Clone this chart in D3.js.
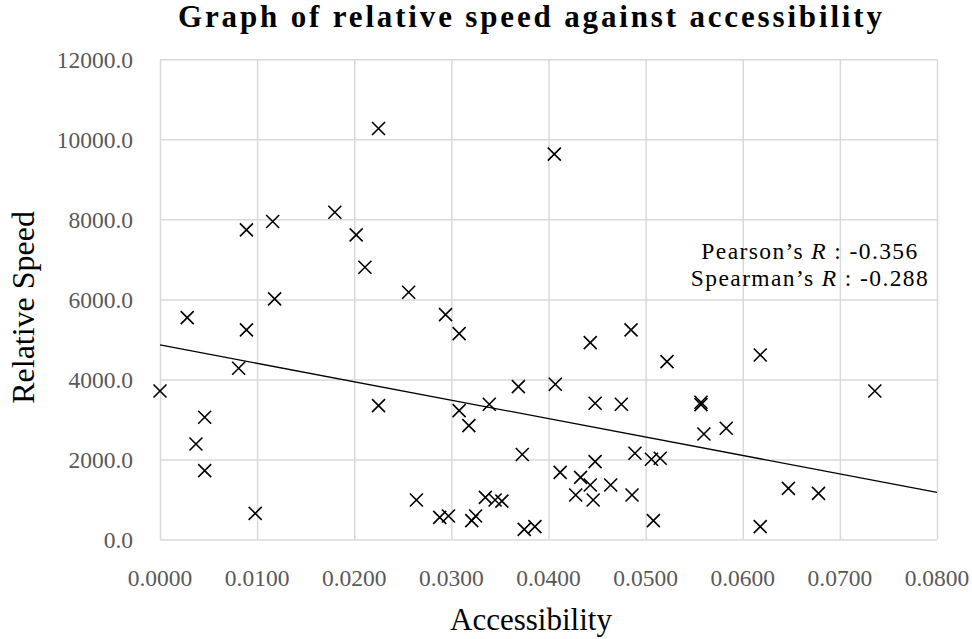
<!DOCTYPE html>
<html>
<head>
<meta charset="utf-8">
<script src="https://cdn.jsdelivr.net/npm/d3@7"></script>
<style>
  html, body { margin: 0; padding: 0; background: #ffffff; }
  svg { display: block; }
</style>
</head>
<body>
<svg id="chart" width="972" height="639"></svg>
<script>
// ---- Data ----
const accessibility = [
  0.0000, 0.0028, 0.0037, 0.0046, 0.0046, 0.0081, 0.0089, 0.0089, 0.0098, 0.0116,
  0.0118, 0.0180, 0.0202, 0.0211, 0.0225, 0.0225, 0.0256, 0.0264, 0.0288, 0.0294,
  0.0297, 0.0308, 0.0308, 0.0318, 0.0321, 0.0325, 0.0335, 0.0339, 0.0345, 0.0352,
  0.0369, 0.0373, 0.0375, 0.0386, 0.0406, 0.0407, 0.0412, 0.0428, 0.0433, 0.0443,
  0.0443, 0.0446, 0.0448, 0.0448, 0.0464, 0.0475, 0.0485, 0.0486, 0.0489, 0.0506,
  0.0508, 0.0515, 0.0522, 0.0557, 0.0557, 0.0560, 0.0583, 0.0618, 0.0618, 0.0647,
  0.0678, 0.0736
];
const relativeSpeed = [
  3712, 5546, 2387, 3054, 1721, 4279, 7738, 5238, 654, 7946,
  6012, 8179, 7612, 6804, 10270, 3346, 6179, 988, 554, 5621,
  587, 5146, 3221, 2846, 471, 587, 1054, 3379, 988, 960,
  3821, 2125, 254, 321, 9629, 3879, 1679, 1112, 1554, 4921,
  1362, 988, 3404, 1946, 1362, 3379, 5238, 1112, 2154, 2004,
  471, 2029, 4446, 3370, 3430, 2637, 2779, 4612, 321, 1279,
  1154, 3712
];
const trendX = [0.0000, 0.0800];
const trendY = [4862, 1180];
const xTicks = [0, 0.01, 0.02, 0.03, 0.04, 0.05, 0.06, 0.07, 0.08];
const yTicks = [0, 2000, 4000, 6000, 8000, 10000, 12000];
const titleText = "Graph of relative speed against accessibility";
const xTitle = "Accessibility";
const yTitle = "Relative Speed";
const stats = [
  { name: "Pearson\u2019s ", sym: "R", val: " : -0.356" },
  { name: "Spearman\u2019s ", sym: "R", val: " : -0.288" }
];

// ---- Layout ----
const svg = d3.select("#chart");
const pLeft = 160, pRight = 937, pTop = 59.3, pBottom = 539.5;
const x = d3.scaleLinear().domain([0, 0.08]).range([pLeft, pRight]);
const y = d3.scaleLinear().domain([0, 12000]).range([pBottom, pTop]);
const serif = "'Liberation Serif', 'Times New Roman', serif";
const grid = "#d9d9d9";
const tickColor = "#595959";

// gridlines
const gx = svg.append("g")
  .attr("transform", `translate(0,${pBottom})`)
  .call(d3.axisBottom(x).tickValues(xTicks).tickSize(-(pBottom - pTop)).tickFormat(""));
const gy = svg.append("g")
  .attr("transform", `translate(${pLeft},0)`)
  .call(d3.axisLeft(y).tickValues(yTicks).tickSize(-(pRight - pLeft)).tickFormat(""));
[gx, gy].forEach(g => {
  g.select(".domain").remove();
  g.selectAll(".tick line").attr("stroke", grid).attr("stroke-width", 1.5);
});

// tick labels
svg.append("g").selectAll("text").data(xTicks).join("text")
  .attr("x", d => x(d)).attr("y", 586)
  .attr("text-anchor", "middle")
  .attr("font-family", serif).attr("font-size", 23.5).attr("fill", tickColor)
  .text(d => d3.format(".4f")(d));
svg.append("g").selectAll("text").data(yTicks).join("text")
  .attr("x", 133).attr("y", d => y(d) + 8.2)
  .attr("text-anchor", "end")
  .attr("font-family", serif).attr("font-size", 23.5).attr("fill", tickColor)
  .text(d => d3.format(".1f")(d));

// trend line
const pts = trendX.map((v, i) => [v, trendY[i]]);
svg.append("path")
  .datum(pts)
  .attr("d", d3.line().x(d => x(d[0])).y(d => y(d[1])))
  .attr("fill", "none").attr("stroke", "#000").attr("stroke-width", 1.3);

// markers
const r = 6.5;
const data = accessibility.map((v, i) => ({ a: v, s: relativeSpeed[i] }));
svg.append("g").selectAll("path").data(data).join("path")
  .attr("d", d => {
    const cx = x(d.a), cy = y(d.s);
    return `M${cx - r},${cy - r}L${cx + r},${cy + r}M${cx - r},${cy + r}L${cx + r},${cy - r}`;
  })
  .attr("stroke", "#000").attr("stroke-width", 1.6).attr("fill", "none");

// title
svg.append("text")
  .attr("x", 530).attr("y", 27)
  .attr("text-anchor", "middle")
  .attr("font-family", serif).attr("font-weight", "bold").attr("font-size", 31)
  .attr("textLength", 704).attr("lengthAdjust", "spacing")
  .text(titleText);

// axis titles
svg.append("text")
  .attr("x", 531).attr("y", 630)
  .attr("text-anchor", "middle")
  .attr("font-family", serif).attr("font-size", 31)
  .text(xTitle);
svg.append("text")
  .attr("transform", `translate(34,${(pTop + pBottom) / 2 + 8}) rotate(-90)`)
  .attr("text-anchor", "middle")
  .attr("font-family", serif).attr("font-size", 32)
  .text(yTitle);

// stats annotation
const ann = svg.append("g");
stats.forEach((s, i) => {
  const t = ann.append("text")
    .attr("x", 810).attr("y", 259 + i * 26.5)
    .attr("text-anchor", "middle")
    .attr("font-family", serif).attr("font-size", 23.5)
    .attr("letter-spacing", 1.4).attr("fill", "#000");
  t.append("tspan").text(s.name);
  t.append("tspan").attr("font-style", "italic").text(s.sym);
  t.append("tspan").text(s.val);
});
</script>
</body>
</html>
